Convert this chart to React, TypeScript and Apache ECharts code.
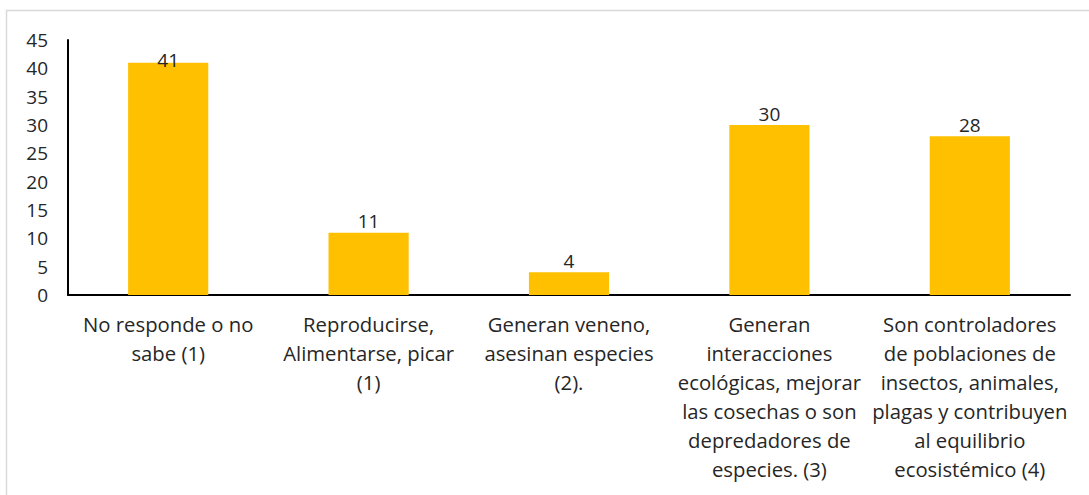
import React, { useEffect, useRef } from "react";
import * as echarts from "echarts";

const categories = [
  "No responde o no\nsabe (1)",
  "Reproducirse,\nAlimentarse, picar\n(1)",
  "Generan veneno,\nasesinan especies\n(2).",
  "Generan\ninteracciones\necológicas, mejorar\nlas cosechas o son\ndepredadores de\nespecies. (3)",
  "Son controladores\nde poblaciones de\ninsectos, animales,\nplagas y contribuyen\nal equilibrio\necosistémico (4)",
];
const values = [41, 11, 4, 30, 28];
const yMin = 0;
const yMax = 45;
const yInterval = 5;

const FONT = "'Open Sans', Lato, sans-serif";

export default function App() {
  const ref = useRef<HTMLDivElement>(null);
  useEffect(() => {
    if (!ref.current) return;
    const chart = echarts.init(ref.current, null, { renderer: "svg" });
    chart.setOption({
      animation: false,
      backgroundColor: "#ffffff",
      graphic: [
        {
          type: "rect",
          shape: { x: 6.5, y: 10.5, width: 1200, height: 600 },
          style: { fill: "none", stroke: "#d9d9d9", lineWidth: 1.5 },
          silent: true,
          z: -10,
        },
      ],
      grid: { left: 68, right: 19, top: 40, bottom: 200, containLabel: false },
      xAxis: {
        type: "category",
        data: categories,
        axisLine: { show: true, lineStyle: { color: "#000000", width: 2 } },
        axisTick: { show: false },
        axisLabel: {
          interval: 0,
          color: "#262626",
          fontFamily: FONT,
          fontSize: 20.3,
          lineHeight: 29,
          margin: 14,
          align: "center",
        },
        splitLine: { show: false },
      },
      yAxis: {
        type: "value",
        min: yMin,
        max: yMax,
        interval: yInterval,
        axisLine: { show: true, lineStyle: { color: "#000000", width: 2 } },
        axisTick: { show: false },
        splitLine: { show: false },
        axisLabel: {
          color: "#262626",
          fontFamily: FONT,
          fontSize: 19,
          margin: 20,
        },
      },
      series: [
        {
          type: "bar",
          data: values.map((v, i) =>
            i === 0 ? { value: v, label: { offset: [0, 9] } } : v
          ),
          barWidth: "40%",
          itemStyle: { color: "#FFC000" },
          label: {
            show: true,
            position: "top",
            distance: 2,
            color: "#262626",
            fontFamily: FONT,
            fontSize: 19,
          },
        },
      ],
    });
    return () => chart.dispose();
  }, []);
  return (
    <div
      ref={ref}
      style={{ position: "fixed", left: 0, top: 0, width: 1089, height: 495 }}
    />
  );
}
